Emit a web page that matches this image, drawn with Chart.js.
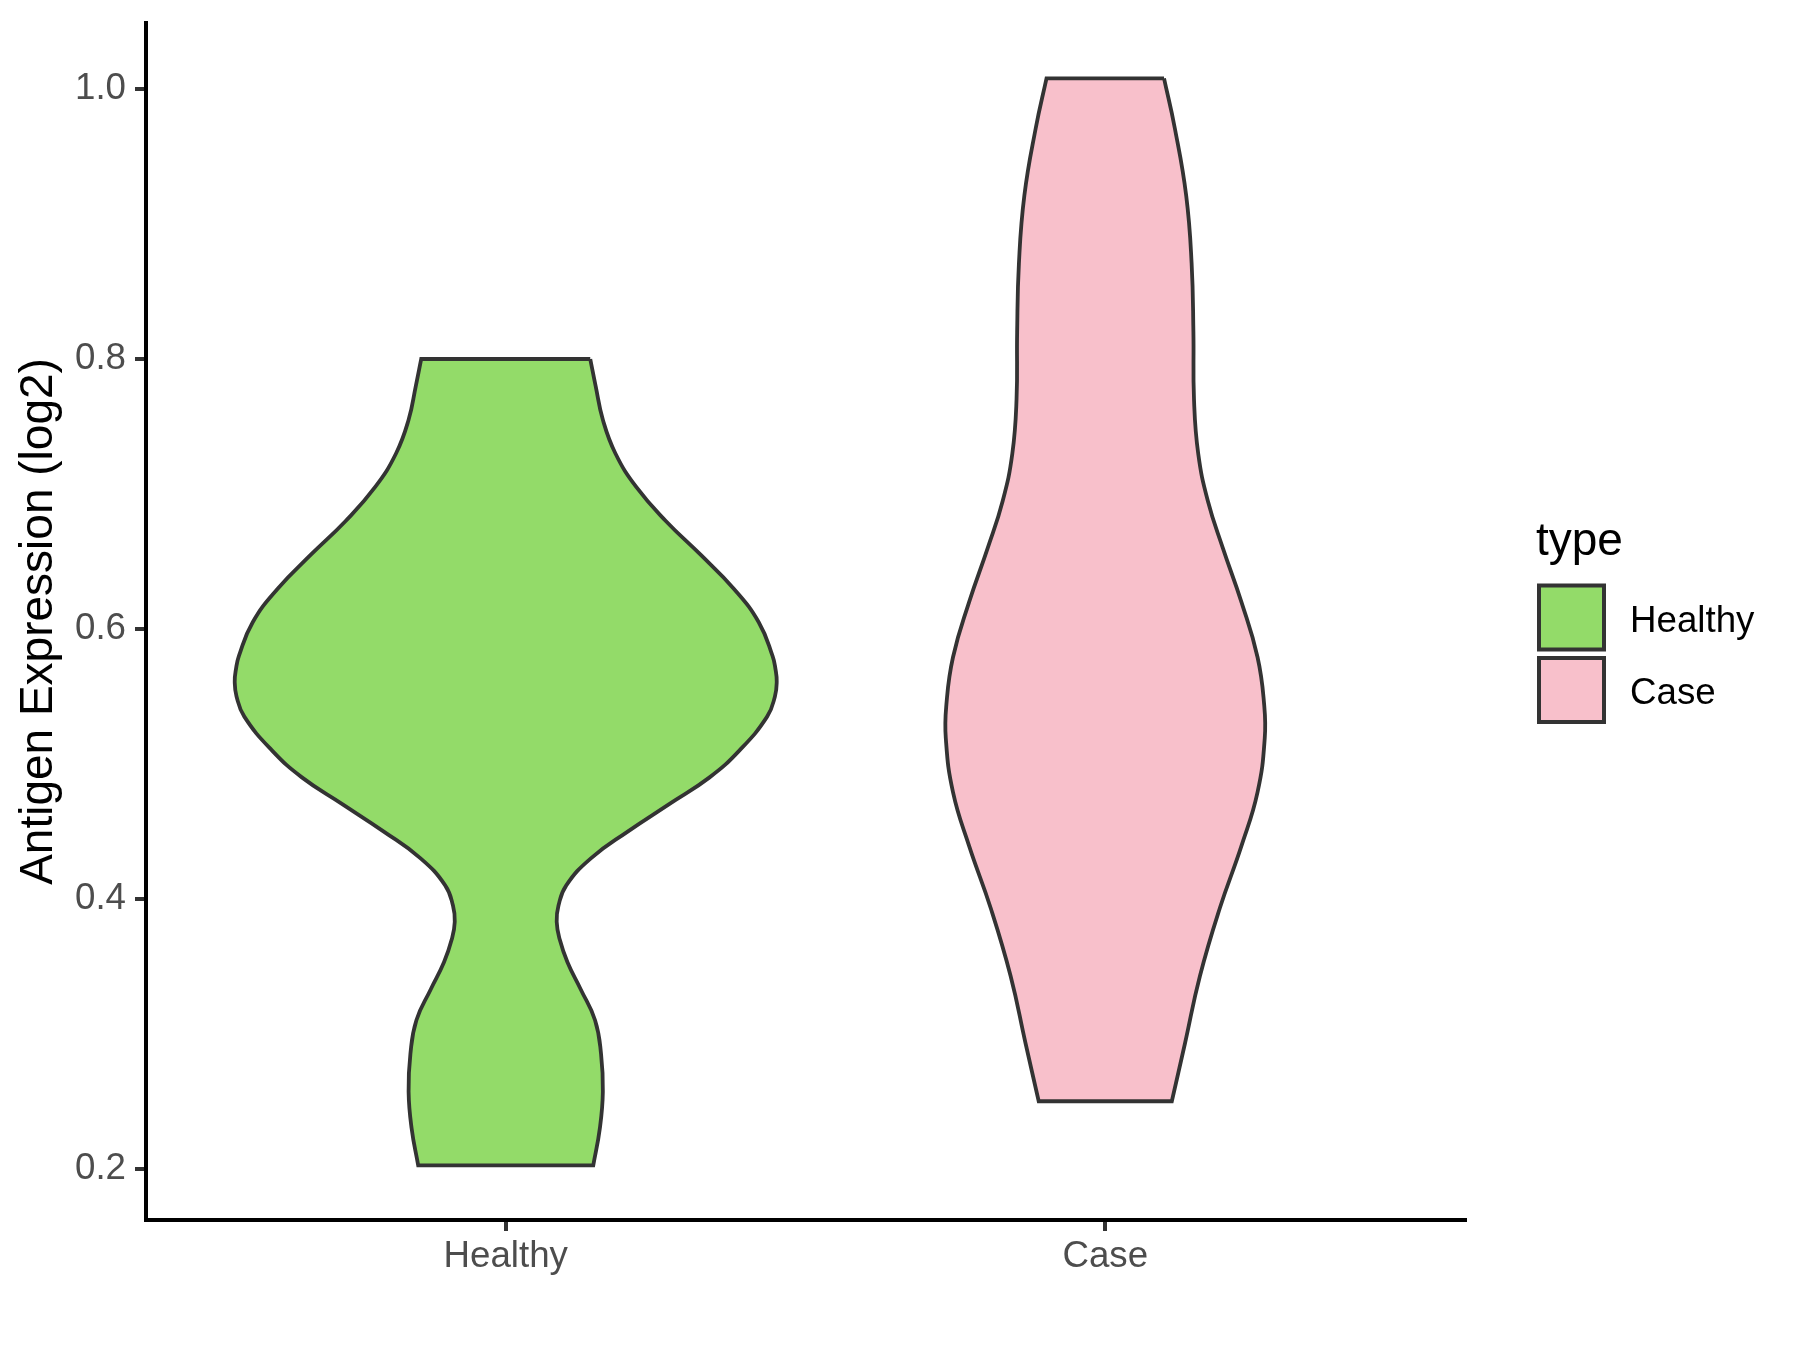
<!DOCTYPE html>
<html>
<head>
<meta charset="utf-8">
<script src="https://cdn.jsdelivr.net/npm/chart.js@4/dist/chart.umd.min.js"></script>
<style>
    html, body { margin: 0; padding: 0; background: #ffffff; }
    #wrap { width: 1800px; height: 1350px; position: relative; }
</style>
</head>
<body>
<div id="wrap"><canvas id="chart"></canvas></div>
<script>
// categories and their position on the x scale
const categories = ['Healthy', 'Case'];
const categoryPos = [1, 2];
const fillColors = ['#93DB69', '#F8C0CB'];

// violin outlines: y value and half width (x units)
const healthyY = [0.800, 0.780, 0.755, 0.730, 0.705, 0.680, 0.655, 0.630, 0.605, 0.580, 0.570, 0.561, 0.550, 0.535, 0.510, 0.490, 0.470, 0.450, 0.430, 0.410, 0.395, 0.383, 0.370, 0.353, 0.333, 0.310, 0.285, 0.257, 0.230, 0.2025];
const healthyHalf = [0.141, 0.150, 0.162, 0.183, 0.218, 0.267, 0.325, 0.380, 0.422, 0.445, 0.450, 0.452, 0.449, 0.436, 0.390, 0.340, 0.272, 0.204, 0.142, 0.101, 0.088, 0.085, 0.090, 0.103, 0.125, 0.149, 0.159, 0.162, 0.157, 0.146];

const caseY = [1.008, 0.971, 0.921, 0.871, 0.820, 0.770, 0.730, 0.695, 0.660, 0.620, 0.579, 0.544, 0.519, 0.479, 0.439, 0.393, 0.343, 0.293, 0.250];
const caseHalf = [0.098, 0.116, 0.135, 0.144, 0.147, 0.148, 0.155, 0.171, 0.196, 0.227, 0.254, 0.265, 0.266, 0.254, 0.227, 0.191, 0.158, 0.133, 0.111];

const yTicks = [0.2, 0.4, 0.6, 0.8, 1.0];
const yTitle = 'Antigen Expression (log2)';
const legendTitle = 'type';

const FONT = '"Liberation Sans", Arial, sans-serif';

// right side top->bottom, left side bottom->top; corners doubled so they stay sharp
function outline (center, ys, halves) {
    const right = ys.map((y, i) => ({ x: center + halves[i], y: y }));
    const left = ys.map((y, i) => ({ x: center - halves[i], y: y })).reverse();
    const last = ys.length - 1;
    const pts = [];
    pts.push(right[0]);
    right.forEach(p => pts.push(p));
    pts.push(right[last]);
    pts.push(left[0]);
    left.forEach(p => pts.push(p));
    pts.push(left[last]);
    pts.push(right[0]);
    pts.push(right[0]);
    return pts;
}

const violins = [
    outline(categoryPos[0], healthyY, healthyHalf),
    outline(categoryPos[1], caseY, caseHalf)
];

const legendPlugin = {
    id: 'typeLegend',
    afterDraw (chart) {
        const ctx = chart.ctx;
        ctx.save();
        ctx.fillStyle = '#000000';
        ctx.font = '46px ' + FONT;
        ctx.textBaseline = 'alphabetic';
        ctx.textAlign = 'left';
        ctx.fillText(legendTitle, 1536, 555);
        categories.forEach((name, i) => {
            const cy = 617.5 + i * 72.5;
            ctx.fillStyle = fillColors[i];
            ctx.fillRect(1539, cy - 32, 65, 64);
            ctx.strokeStyle = '#333333';
            ctx.lineWidth = 4;
            ctx.strokeRect(1539, cy - 32, 65, 64);
            ctx.fillStyle = '#000000';
            ctx.font = '36.7px ' + FONT;
            ctx.textBaseline = 'middle';
            ctx.fillText(name, 1630, cy + 4);
        });
        ctx.restore();
    }
};

new Chart(document.getElementById('chart'), {
    type: 'scatter',
    data: {
        datasets: violins.map((pts, i) => ({
            label: categories[i],
            data: pts,
            showLine: true,
            fill: 'shape',
            backgroundColor: fillColors[i],
            borderColor: '#333333',
            borderWidth: 3.8,
            tension: 0.45,
            pointRadius: 0,
            pointHoverRadius: 0
        }))
    },
    options: {
        responsive: true,
        maintainAspectRatio: false,
        animation: false,
        devicePixelRatio: 1,
        layout: { padding: { left: 0, top: 23, right: 335, bottom: 0 } },
        plugins: {
            legend: { display: false },
            tooltip: { enabled: false }
        },
        scales: {
            x: {
                type: 'linear',
                min: 0.4,
                max: 2.6,
                afterFit: (scale) => {
                    scale.height = 130;
                    scale.paddingLeft = 0;
                    scale.paddingRight = 0;
                },
                afterBuildTicks: (scale) => { scale.ticks = categoryPos.map(v => ({ value: v })); },
                grid: { drawOnChartArea: false, drawTicks: true, tickLength: 11, color: '#333333', lineWidth: 4 },
                border: { display: true, color: '#000000', width: 4 },
                ticks: {
                    padding: 4,
                    color: '#4D4D4D',
                    font: { family: FONT, size: 36.7 },
                    callback: (v) => categories[categoryPos.indexOf(v)] || ''
                }
            },
            y: {
                type: 'linear',
                min: 0.162,
                max: 1.049,
                afterFit: (scale) => {
                    scale.width = 146;
                    scale.paddingTop = 0;
                    scale.paddingBottom = 0;
                },
                afterBuildTicks: (scale) => { scale.ticks = yTicks.map(v => ({ value: v })); },
                grid: { drawOnChartArea: false, drawTicks: true, tickLength: 11, color: '#333333', lineWidth: 4 },
                border: { display: true, color: '#000000', width: 4 },
                ticks: {
                    padding: 9,
                    color: '#4D4D4D',
                    font: { family: FONT, size: 36.7 },
                    callback: (v) => Number(v).toFixed(1)
                },
                title: {
                    display: true,
                    text: yTitle,
                    color: '#000000',
                    font: { family: FONT, size: 46 },
                    padding: { top: 12, bottom: 0 }
                }
            }
        }
    },
    plugins: [legendPlugin]
});
</script>
</body>
</html>
